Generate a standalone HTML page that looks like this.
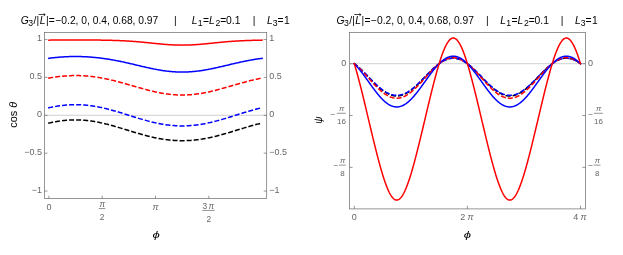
<!DOCTYPE html><html><head><meta charset="utf-8"><title>plot</title><style>html,body{margin:0;padding:0;background:#fff}body{width:623px;height:255px;position:relative;overflow:hidden}</style></head><body><svg width="623" height="255" viewBox="0 0 623 255" style="position:absolute;left:0;top:0">
<rect width="623" height="255" fill="#fff"/>
<g font-family="Liberation Sans, Arial, sans-serif">
<line x1="44.50" y1="115.30" x2="266.70" y2="115.30" stroke="#c4c4c4" stroke-width="0.8"/>
<g fill="none" stroke-width="1.5" stroke-linecap="square" stroke-linejoin="round">
<path d="M48.90 123.07 L49.79 122.87 L50.68 122.68 L51.56 122.49 L52.45 122.31 L53.34 122.14 L54.23 121.97 L55.12 121.80 L56.01 121.65 L56.89 121.50 L57.78 121.35 L58.67 121.22 L59.56 121.08 L60.45 120.96 L61.34 120.84 L62.23 120.73 L63.11 120.62 L64.00 120.53 L64.89 120.44 L65.78 120.35 L66.67 120.28 L67.56 120.21 L68.44 120.14 L69.33 120.09 L70.22 120.04 L71.11 120.00 L72.00 119.97 L72.89 119.94 L73.77 119.92 L74.66 119.91 L75.55 119.91 L76.44 119.91 L77.33 119.92 L78.22 119.94 L79.10 119.97 L79.99 120.00 L80.88 120.04 L81.77 120.09 L82.66 120.14 L83.55 120.21 L84.43 120.28 L85.32 120.35 L86.21 120.44 L87.10 120.53 L87.99 120.62 L88.88 120.73 L89.76 120.84 L90.65 120.96 L91.54 121.08 L92.43 121.22 L93.32 121.35 L94.21 121.50 L95.09 121.65 L95.98 121.80 L96.87 121.97 L97.76 122.14 L98.65 122.31 L99.53 122.49 L100.42 122.68 L101.31 122.87 L102.20 123.07 L103.09 123.27 L103.98 123.47 L104.87 123.69 L105.75 123.90 L106.64 124.12 L107.53 124.35 L108.42 124.58 L109.31 124.81 L110.20 125.05 L111.08 125.29 L111.97 125.54 L112.86 125.78 L113.75 126.04 L114.64 126.29 L115.53 126.55 L116.41 126.81 L117.30 127.07 L118.19 127.33 L119.08 127.60 L119.97 127.87 L120.86 128.14 L121.74 128.41 L122.63 128.68 L123.52 128.95 L124.41 129.23 L125.30 129.50 L126.19 129.78 L127.07 130.05 L127.96 130.33 L128.85 130.60 L129.74 130.88 L130.63 131.15 L131.52 131.42 L132.40 131.69 L133.29 131.96 L134.18 132.23 L135.07 132.50 L135.96 132.77 L136.84 133.03 L137.73 133.29 L138.62 133.55 L139.51 133.81 L140.40 134.07 L141.29 134.32 L142.18 134.57 L143.06 134.81 L143.95 135.05 L144.84 135.29 L145.73 135.53 L146.62 135.76 L147.50 135.99 L148.39 136.21 L149.28 136.43 L150.17 136.64 L151.06 136.85 L151.95 137.06 L152.84 137.26 L153.72 137.46 L154.61 137.65 L155.50 137.83 L156.39 138.01 L157.28 138.19 L158.17 138.36 L159.05 138.53 L159.94 138.68 L160.83 138.84 L161.72 138.99 L162.61 139.13 L163.50 139.27 L164.38 139.40 L165.27 139.52 L166.16 139.64 L167.05 139.75 L167.94 139.86 L168.83 139.96 L169.71 140.05 L170.60 140.14 L171.49 140.22 L172.38 140.30 L173.27 140.37 L174.16 140.43 L175.04 140.48 L175.93 140.53 L176.82 140.58 L177.71 140.61 L178.60 140.64 L179.49 140.66 L180.37 140.68 L181.26 140.69 L182.15 140.69 L183.04 140.69 L183.93 140.68 L184.81 140.66 L185.70 140.64 L186.59 140.61 L187.48 140.58 L188.37 140.53 L189.26 140.48 L190.15 140.43 L191.03 140.37 L191.92 140.30 L192.81 140.22 L193.70 140.14 L194.59 140.05 L195.47 139.96 L196.36 139.86 L197.25 139.75 L198.14 139.64 L199.03 139.52 L199.92 139.40 L200.81 139.27 L201.69 139.13 L202.58 138.99 L203.47 138.84 L204.36 138.68 L205.25 138.53 L206.13 138.36 L207.02 138.19 L207.91 138.01 L208.80 137.83 L209.69 137.65 L210.58 137.46 L211.47 137.26 L212.35 137.06 L213.24 136.85 L214.13 136.64 L215.02 136.43 L215.91 136.21 L216.80 135.99 L217.68 135.76 L218.57 135.53 L219.46 135.29 L220.35 135.05 L221.24 134.81 L222.12 134.57 L223.01 134.32 L223.90 134.07 L224.79 133.81 L225.68 133.55 L226.57 133.29 L227.46 133.03 L228.34 132.77 L229.23 132.50 L230.12 132.23 L231.01 131.96 L231.90 131.69 L232.78 131.42 L233.67 131.15 L234.56 130.88 L235.45 130.60 L236.34 130.33 L237.23 130.05 L238.12 129.78 L239.00 129.50 L239.89 129.23 L240.78 128.95 L241.67 128.68 L242.56 128.41 L243.44 128.14 L244.33 127.87 L245.22 127.60 L246.11 127.33 L247.00 127.07 L247.89 126.81 L248.78 126.55 L249.66 126.29 L250.55 126.04 L251.44 125.78 L252.33 125.54 L253.22 125.29 L254.11 125.05 L254.99 124.81 L255.88 124.58 L256.77 124.35 L257.66 124.12 L258.55 123.90 L259.44 123.69 L260.32 123.47 L261.21 123.27 L262.10 123.07" stroke="#000" stroke-dasharray="3.53 3.53"/>
<path d="M48.90 107.76 L49.79 107.57 L50.68 107.38 L51.56 107.20 L52.45 107.02 L53.34 106.85 L54.23 106.69 L55.12 106.53 L56.01 106.38 L56.89 106.23 L57.78 106.09 L58.67 105.96 L59.56 105.83 L60.45 105.71 L61.34 105.59 L62.23 105.49 L63.11 105.38 L64.00 105.29 L64.89 105.20 L65.78 105.12 L66.67 105.05 L67.56 104.98 L68.44 104.92 L69.33 104.87 L70.22 104.82 L71.11 104.78 L72.00 104.75 L72.89 104.72 L73.77 104.71 L74.66 104.70 L75.55 104.69 L76.44 104.70 L77.33 104.71 L78.22 104.72 L79.10 104.75 L79.99 104.78 L80.88 104.82 L81.77 104.87 L82.66 104.92 L83.55 104.98 L84.43 105.05 L85.32 105.12 L86.21 105.20 L87.10 105.29 L87.99 105.38 L88.88 105.49 L89.76 105.59 L90.65 105.71 L91.54 105.83 L92.43 105.96 L93.32 106.09 L94.21 106.23 L95.09 106.38 L95.98 106.53 L96.87 106.69 L97.76 106.85 L98.65 107.02 L99.53 107.20 L100.42 107.38 L101.31 107.57 L102.20 107.76 L103.09 107.96 L103.98 108.16 L104.87 108.37 L105.75 108.58 L106.64 108.80 L107.53 109.02 L108.42 109.25 L109.31 109.48 L110.20 109.72 L111.08 109.96 L111.97 110.20 L112.86 110.45 L113.75 110.70 L114.64 110.95 L115.53 111.21 L116.41 111.47 L117.30 111.73 L118.19 111.99 L119.08 112.26 L119.97 112.53 L120.86 112.80 L121.74 113.07 L122.63 113.35 L123.52 113.62 L124.41 113.90 L125.30 114.18 L126.19 114.46 L127.07 114.74 L127.96 115.02 L128.85 115.30 L129.74 115.58 L130.63 115.86 L131.52 116.14 L132.40 116.42 L133.29 116.70 L134.18 116.98 L135.07 117.25 L135.96 117.53 L136.84 117.80 L137.73 118.07 L138.62 118.34 L139.51 118.61 L140.40 118.87 L141.29 119.13 L142.18 119.39 L143.06 119.65 L143.95 119.90 L144.84 120.15 L145.73 120.40 L146.62 120.64 L147.50 120.88 L148.39 121.12 L149.28 121.35 L150.17 121.58 L151.06 121.80 L151.95 122.02 L152.84 122.23 L153.72 122.44 L154.61 122.64 L155.50 122.84 L156.39 123.03 L157.28 123.22 L158.17 123.40 L159.05 123.58 L159.94 123.75 L160.83 123.91 L161.72 124.07 L162.61 124.22 L163.50 124.37 L164.38 124.51 L165.27 124.64 L166.16 124.77 L167.05 124.89 L167.94 125.01 L168.83 125.11 L169.71 125.22 L170.60 125.31 L171.49 125.40 L172.38 125.48 L173.27 125.55 L174.16 125.62 L175.04 125.68 L175.93 125.73 L176.82 125.78 L177.71 125.82 L178.60 125.85 L179.49 125.88 L180.37 125.89 L181.26 125.90 L182.15 125.91 L183.04 125.90 L183.93 125.89 L184.81 125.88 L185.70 125.85 L186.59 125.82 L187.48 125.78 L188.37 125.73 L189.26 125.68 L190.15 125.62 L191.03 125.55 L191.92 125.48 L192.81 125.40 L193.70 125.31 L194.59 125.22 L195.47 125.11 L196.36 125.01 L197.25 124.89 L198.14 124.77 L199.03 124.64 L199.92 124.51 L200.81 124.37 L201.69 124.22 L202.58 124.07 L203.47 123.91 L204.36 123.75 L205.25 123.58 L206.13 123.40 L207.02 123.22 L207.91 123.03 L208.80 122.84 L209.69 122.64 L210.58 122.44 L211.47 122.23 L212.35 122.02 L213.24 121.80 L214.13 121.58 L215.02 121.35 L215.91 121.12 L216.80 120.88 L217.68 120.64 L218.57 120.40 L219.46 120.15 L220.35 119.90 L221.24 119.65 L222.12 119.39 L223.01 119.13 L223.90 118.87 L224.79 118.61 L225.68 118.34 L226.57 118.07 L227.46 117.80 L228.34 117.53 L229.23 117.25 L230.12 116.98 L231.01 116.70 L231.90 116.42 L232.78 116.14 L233.67 115.86 L234.56 115.58 L235.45 115.30 L236.34 115.02 L237.23 114.74 L238.12 114.46 L239.00 114.18 L239.89 113.90 L240.78 113.62 L241.67 113.35 L242.56 113.07 L243.44 112.80 L244.33 112.53 L245.22 112.26 L246.11 111.99 L247.00 111.73 L247.89 111.47 L248.78 111.21 L249.66 110.95 L250.55 110.70 L251.44 110.45 L252.33 110.20 L253.22 109.96 L254.11 109.72 L254.99 109.48 L255.88 109.25 L256.77 109.02 L257.66 108.80 L258.55 108.58 L259.44 108.37 L260.32 108.16 L261.21 107.96 L262.10 107.76" stroke="#0000ff" stroke-dasharray="3.53 3.53"/>
<path d="M48.90 78.10 L49.79 77.94 L50.68 77.78 L51.56 77.63 L52.45 77.48 L53.34 77.34 L54.23 77.21 L55.12 77.08 L56.01 76.95 L56.89 76.83 L57.78 76.71 L58.67 76.61 L59.56 76.50 L60.45 76.40 L61.34 76.31 L62.23 76.22 L63.11 76.14 L64.00 76.06 L64.89 75.99 L65.78 75.92 L66.67 75.86 L67.56 75.81 L68.44 75.76 L69.33 75.72 L70.22 75.68 L71.11 75.65 L72.00 75.62 L72.89 75.60 L73.77 75.59 L74.66 75.58 L75.55 75.58 L76.44 75.58 L77.33 75.59 L78.22 75.60 L79.10 75.62 L79.99 75.65 L80.88 75.68 L81.77 75.72 L82.66 75.76 L83.55 75.81 L84.43 75.86 L85.32 75.92 L86.21 75.99 L87.10 76.06 L87.99 76.14 L88.88 76.22 L89.76 76.31 L90.65 76.40 L91.54 76.50 L92.43 76.61 L93.32 76.71 L94.21 76.83 L95.09 76.95 L95.98 77.08 L96.87 77.21 L97.76 77.34 L98.65 77.48 L99.53 77.63 L100.42 77.78 L101.31 77.94 L102.20 78.10 L103.09 78.27 L103.98 78.44 L104.87 78.61 L105.75 78.79 L106.64 78.98 L107.53 79.16 L108.42 79.36 L109.31 79.55 L110.20 79.76 L111.08 79.96 L111.97 80.17 L112.86 80.38 L113.75 80.60 L114.64 80.82 L115.53 81.04 L116.41 81.27 L117.30 81.50 L118.19 81.73 L119.08 81.97 L119.97 82.20 L120.86 82.45 L121.74 82.69 L122.63 82.93 L123.52 83.18 L124.41 83.43 L125.30 83.68 L126.19 83.93 L127.07 84.19 L127.96 84.44 L128.85 84.70 L129.74 84.96 L130.63 85.21 L131.52 85.47 L132.40 85.73 L133.29 85.99 L134.18 86.25 L135.07 86.50 L135.96 86.76 L136.84 87.02 L137.73 87.27 L138.62 87.53 L139.51 87.78 L140.40 88.03 L141.29 88.29 L142.18 88.53 L143.06 88.78 L143.95 89.02 L144.84 89.27 L145.73 89.50 L146.62 89.74 L147.50 89.97 L148.39 90.20 L149.28 90.43 L150.17 90.65 L151.06 90.87 L151.95 91.09 L152.84 91.30 L153.72 91.50 L154.61 91.71 L155.50 91.90 L156.39 92.10 L157.28 92.28 L158.17 92.47 L159.05 92.64 L159.94 92.81 L160.83 92.98 L161.72 93.14 L162.61 93.30 L163.50 93.44 L164.38 93.59 L165.27 93.72 L166.16 93.85 L167.05 93.98 L167.94 94.09 L168.83 94.20 L169.71 94.31 L170.60 94.40 L171.49 94.50 L172.38 94.58 L173.27 94.65 L174.16 94.72 L175.04 94.79 L175.93 94.84 L176.82 94.89 L177.71 94.93 L178.60 94.96 L179.49 94.99 L180.37 95.01 L181.26 95.02 L182.15 95.02 L183.04 95.02 L183.93 95.01 L184.81 94.99 L185.70 94.96 L186.59 94.93 L187.48 94.89 L188.37 94.84 L189.26 94.79 L190.15 94.72 L191.03 94.65 L191.92 94.58 L192.81 94.50 L193.70 94.40 L194.59 94.31 L195.47 94.20 L196.36 94.09 L197.25 93.98 L198.14 93.85 L199.03 93.72 L199.92 93.59 L200.81 93.44 L201.69 93.30 L202.58 93.14 L203.47 92.98 L204.36 92.81 L205.25 92.64 L206.13 92.47 L207.02 92.28 L207.91 92.10 L208.80 91.90 L209.69 91.71 L210.58 91.50 L211.47 91.30 L212.35 91.09 L213.24 90.87 L214.13 90.65 L215.02 90.43 L215.91 90.20 L216.80 89.97 L217.68 89.74 L218.57 89.50 L219.46 89.27 L220.35 89.02 L221.24 88.78 L222.12 88.53 L223.01 88.29 L223.90 88.03 L224.79 87.78 L225.68 87.53 L226.57 87.27 L227.46 87.02 L228.34 86.76 L229.23 86.50 L230.12 86.25 L231.01 85.99 L231.90 85.73 L232.78 85.47 L233.67 85.21 L234.56 84.96 L235.45 84.70 L236.34 84.44 L237.23 84.19 L238.12 83.93 L239.00 83.68 L239.89 83.43 L240.78 83.18 L241.67 82.93 L242.56 82.69 L243.44 82.45 L244.33 82.20 L245.22 81.97 L246.11 81.73 L247.00 81.50 L247.89 81.27 L248.78 81.04 L249.66 80.82 L250.55 80.60 L251.44 80.38 L252.33 80.17 L253.22 79.96 L254.11 79.76 L254.99 79.55 L255.88 79.36 L256.77 79.16 L257.66 78.98 L258.55 78.79 L259.44 78.61 L260.32 78.44 L261.21 78.27 L262.10 78.10" stroke="#ff0000" stroke-dasharray="3.53 3.53"/>
<path d="M48.90 58.29 L49.79 58.17 L50.68 58.06 L51.56 57.96 L52.45 57.85 L53.34 57.75 L54.23 57.65 L55.12 57.56 L56.01 57.47 L56.89 57.39 L57.78 57.31 L58.67 57.23 L59.56 57.16 L60.45 57.09 L61.34 57.03 L62.23 56.96 L63.11 56.91 L64.00 56.85 L64.89 56.80 L65.78 56.76 L66.67 56.72 L67.56 56.68 L68.44 56.65 L69.33 56.62 L70.22 56.59 L71.11 56.57 L72.00 56.55 L72.89 56.54 L73.77 56.53 L74.66 56.52 L75.55 56.52 L76.44 56.52 L77.33 56.53 L78.22 56.54 L79.10 56.55 L79.99 56.57 L80.88 56.59 L81.77 56.62 L82.66 56.65 L83.55 56.68 L84.43 56.72 L85.32 56.76 L86.21 56.80 L87.10 56.85 L87.99 56.91 L88.88 56.96 L89.76 57.03 L90.65 57.09 L91.54 57.16 L92.43 57.23 L93.32 57.31 L94.21 57.39 L95.09 57.47 L95.98 57.56 L96.87 57.65 L97.76 57.75 L98.65 57.85 L99.53 57.96 L100.42 58.06 L101.31 58.17 L102.20 58.29 L103.09 58.41 L103.98 58.53 L104.87 58.66 L105.75 58.79 L106.64 58.92 L107.53 59.06 L108.42 59.20 L109.31 59.34 L110.20 59.49 L111.08 59.64 L111.97 59.80 L112.86 59.96 L113.75 60.12 L114.64 60.28 L115.53 60.45 L116.41 60.62 L117.30 60.79 L118.19 60.97 L119.08 61.15 L119.97 61.33 L120.86 61.52 L121.74 61.70 L122.63 61.89 L123.52 62.08 L124.41 62.28 L125.30 62.47 L126.19 62.67 L127.07 62.87 L127.96 63.07 L128.85 63.28 L129.74 63.48 L130.63 63.69 L131.52 63.89 L132.40 64.10 L133.29 64.31 L134.18 64.52 L135.07 64.73 L135.96 64.94 L136.84 65.15 L137.73 65.36 L138.62 65.57 L139.51 65.78 L140.40 65.99 L141.29 66.20 L142.18 66.41 L143.06 66.62 L143.95 66.82 L144.84 67.03 L145.73 67.23 L146.62 67.43 L147.50 67.63 L148.39 67.82 L149.28 68.02 L150.17 68.21 L151.06 68.40 L151.95 68.58 L152.84 68.77 L153.72 68.95 L154.61 69.12 L155.50 69.30 L156.39 69.46 L157.28 69.63 L158.17 69.79 L159.05 69.95 L159.94 70.10 L160.83 70.24 L161.72 70.39 L162.61 70.52 L163.50 70.66 L164.38 70.78 L165.27 70.91 L166.16 71.02 L167.05 71.13 L167.94 71.24 L168.83 71.34 L169.71 71.43 L170.60 71.52 L171.49 71.60 L172.38 71.67 L173.27 71.74 L174.16 71.81 L175.04 71.86 L175.93 71.91 L176.82 71.95 L177.71 71.99 L178.60 72.02 L179.49 72.04 L180.37 72.06 L181.26 72.07 L182.15 72.07 L183.04 72.07 L183.93 72.06 L184.81 72.04 L185.70 72.02 L186.59 71.99 L187.48 71.95 L188.37 71.91 L189.26 71.86 L190.15 71.81 L191.03 71.74 L191.92 71.67 L192.81 71.60 L193.70 71.52 L194.59 71.43 L195.47 71.34 L196.36 71.24 L197.25 71.13 L198.14 71.02 L199.03 70.91 L199.92 70.78 L200.81 70.66 L201.69 70.52 L202.58 70.39 L203.47 70.24 L204.36 70.10 L205.25 69.95 L206.13 69.79 L207.02 69.63 L207.91 69.46 L208.80 69.30 L209.69 69.12 L210.58 68.95 L211.47 68.77 L212.35 68.58 L213.24 68.40 L214.13 68.21 L215.02 68.02 L215.91 67.82 L216.80 67.63 L217.68 67.43 L218.57 67.23 L219.46 67.03 L220.35 66.82 L221.24 66.62 L222.12 66.41 L223.01 66.20 L223.90 65.99 L224.79 65.78 L225.68 65.57 L226.57 65.36 L227.46 65.15 L228.34 64.94 L229.23 64.73 L230.12 64.52 L231.01 64.31 L231.90 64.10 L232.78 63.89 L233.67 63.69 L234.56 63.48 L235.45 63.28 L236.34 63.07 L237.23 62.87 L238.12 62.67 L239.00 62.47 L239.89 62.28 L240.78 62.08 L241.67 61.89 L242.56 61.70 L243.44 61.52 L244.33 61.33 L245.22 61.15 L246.11 60.97 L247.00 60.79 L247.89 60.62 L248.78 60.45 L249.66 60.28 L250.55 60.12 L251.44 59.96 L252.33 59.80 L253.22 59.64 L254.11 59.49 L254.99 59.34 L255.88 59.20 L256.77 59.06 L257.66 58.92 L258.55 58.79 L259.44 58.66 L260.32 58.53 L261.21 58.41 L262.10 58.29" stroke="#0000ff"/>
<path d="M48.90 40.14 L49.79 40.13 L50.68 40.12 L51.56 40.11 L52.45 40.09 L53.34 40.08 L54.23 40.07 L55.12 40.06 L56.01 40.06 L56.89 40.05 L57.78 40.04 L58.67 40.03 L59.56 40.02 L60.45 40.02 L61.34 40.01 L62.23 40.01 L63.11 40.00 L64.00 40.00 L64.89 39.99 L65.78 39.99 L66.67 39.98 L67.56 39.98 L68.44 39.98 L69.33 39.98 L70.22 39.97 L71.11 39.97 L72.00 39.97 L72.89 39.97 L73.77 39.97 L74.66 39.97 L75.55 39.97 L76.44 39.97 L77.33 39.97 L78.22 39.97 L79.10 39.97 L79.99 39.97 L80.88 39.97 L81.77 39.98 L82.66 39.98 L83.55 39.98 L84.43 39.98 L85.32 39.99 L86.21 39.99 L87.10 40.00 L87.99 40.00 L88.88 40.01 L89.76 40.01 L90.65 40.02 L91.54 40.02 L92.43 40.03 L93.32 40.04 L94.21 40.05 L95.09 40.06 L95.98 40.06 L96.87 40.07 L97.76 40.08 L98.65 40.09 L99.53 40.11 L100.42 40.12 L101.31 40.13 L102.20 40.14 L103.09 40.16 L103.98 40.17 L104.87 40.19 L105.75 40.21 L106.64 40.22 L107.53 40.24 L108.42 40.26 L109.31 40.28 L110.20 40.30 L111.08 40.33 L111.97 40.35 L112.86 40.38 L113.75 40.40 L114.64 40.43 L115.53 40.46 L116.41 40.49 L117.30 40.52 L118.19 40.55 L119.08 40.59 L119.97 40.63 L120.86 40.66 L121.74 40.70 L122.63 40.75 L123.52 40.79 L124.41 40.83 L125.30 40.88 L126.19 40.93 L127.07 40.98 L127.96 41.04 L128.85 41.09 L129.74 41.15 L130.63 41.21 L131.52 41.27 L132.40 41.33 L133.29 41.40 L134.18 41.47 L135.07 41.54 L135.96 41.61 L136.84 41.68 L137.73 41.76 L138.62 41.83 L139.51 41.91 L140.40 41.99 L141.29 42.07 L142.18 42.16 L143.06 42.24 L143.95 42.33 L144.84 42.42 L145.73 42.51 L146.62 42.59 L147.50 42.68 L148.39 42.78 L149.28 42.87 L150.17 42.96 L151.06 43.05 L151.95 43.14 L152.84 43.23 L153.72 43.33 L154.61 43.42 L155.50 43.51 L156.39 43.60 L157.28 43.69 L158.17 43.77 L159.05 43.86 L159.94 43.94 L160.83 44.03 L161.72 44.11 L162.61 44.19 L163.50 44.26 L164.38 44.34 L165.27 44.41 L166.16 44.48 L167.05 44.54 L167.94 44.61 L168.83 44.67 L169.71 44.72 L170.60 44.78 L171.49 44.83 L172.38 44.87 L173.27 44.92 L174.16 44.96 L175.04 44.99 L175.93 45.02 L176.82 45.05 L177.71 45.07 L178.60 45.09 L179.49 45.11 L180.37 45.12 L181.26 45.12 L182.15 45.13 L183.04 45.12 L183.93 45.12 L184.81 45.11 L185.70 45.09 L186.59 45.07 L187.48 45.05 L188.37 45.02 L189.26 44.99 L190.15 44.96 L191.03 44.92 L191.92 44.87 L192.81 44.83 L193.70 44.78 L194.59 44.72 L195.47 44.67 L196.36 44.61 L197.25 44.54 L198.14 44.48 L199.03 44.41 L199.92 44.34 L200.81 44.26 L201.69 44.19 L202.58 44.11 L203.47 44.03 L204.36 43.94 L205.25 43.86 L206.13 43.77 L207.02 43.69 L207.91 43.60 L208.80 43.51 L209.69 43.42 L210.58 43.33 L211.47 43.23 L212.35 43.14 L213.24 43.05 L214.13 42.96 L215.02 42.87 L215.91 42.78 L216.80 42.68 L217.68 42.59 L218.57 42.51 L219.46 42.42 L220.35 42.33 L221.24 42.24 L222.12 42.16 L223.01 42.07 L223.90 41.99 L224.79 41.91 L225.68 41.83 L226.57 41.76 L227.46 41.68 L228.34 41.61 L229.23 41.54 L230.12 41.47 L231.01 41.40 L231.90 41.33 L232.78 41.27 L233.67 41.21 L234.56 41.15 L235.45 41.09 L236.34 41.04 L237.23 40.98 L238.12 40.93 L239.00 40.88 L239.89 40.83 L240.78 40.79 L241.67 40.75 L242.56 40.70 L243.44 40.66 L244.33 40.63 L245.22 40.59 L246.11 40.55 L247.00 40.52 L247.89 40.49 L248.78 40.46 L249.66 40.43 L250.55 40.40 L251.44 40.38 L252.33 40.35 L253.22 40.33 L254.11 40.30 L254.99 40.28 L255.88 40.26 L256.77 40.24 L257.66 40.22 L258.55 40.21 L259.44 40.19 L260.32 40.17 L261.21 40.16 L262.10 40.14" stroke="#ff0000"/>
</g>
<rect x="44.50" y="32.50" width="222.20" height="165.90" fill="none" stroke="#6a6a6a" stroke-width="0.7"/>
<line x1="44.50" y1="39.55" x2="47.50" y2="39.55" stroke="#6a6a6a" stroke-width="0.7"/>
<line x1="263.70" y1="39.55" x2="266.70" y2="39.55" stroke="#6a6a6a" stroke-width="0.7"/>
<text x="42.00" y="41.45" font-size="9.0" fill="#666666" text-anchor="end" >1</text>
<text x="269.20" y="41.45" font-size="9.0" fill="#666666" text-anchor="start" >1</text>
<line x1="44.50" y1="77.42" x2="47.50" y2="77.42" stroke="#6a6a6a" stroke-width="0.7"/>
<line x1="263.70" y1="77.42" x2="266.70" y2="77.42" stroke="#6a6a6a" stroke-width="0.7"/>
<text x="42.00" y="79.33" font-size="9.0" fill="#666666" text-anchor="end" >0.5</text>
<text x="269.20" y="79.33" font-size="9.0" fill="#666666" text-anchor="start" >0.5</text>
<line x1="44.50" y1="115.30" x2="47.50" y2="115.30" stroke="#6a6a6a" stroke-width="0.7"/>
<line x1="263.70" y1="115.30" x2="266.70" y2="115.30" stroke="#6a6a6a" stroke-width="0.7"/>
<text x="42.00" y="117.20" font-size="9.0" fill="#666666" text-anchor="end" >0</text>
<text x="269.20" y="117.20" font-size="9.0" fill="#666666" text-anchor="start" >0</text>
<line x1="44.50" y1="153.18" x2="47.50" y2="153.18" stroke="#6a6a6a" stroke-width="0.7"/>
<line x1="263.70" y1="153.18" x2="266.70" y2="153.18" stroke="#6a6a6a" stroke-width="0.7"/>
<text x="42.00" y="155.08" font-size="9.0" fill="#666666" text-anchor="end" >−0.5</text>
<text x="269.20" y="155.08" font-size="9.0" fill="#666666" text-anchor="start" >−0.5</text>
<line x1="44.50" y1="191.05" x2="47.50" y2="191.05" stroke="#6a6a6a" stroke-width="0.7"/>
<line x1="263.70" y1="191.05" x2="266.70" y2="191.05" stroke="#6a6a6a" stroke-width="0.7"/>
<text x="42.00" y="192.95" font-size="9.0" fill="#666666" text-anchor="end" >−1</text>
<text x="269.20" y="192.95" font-size="9.0" fill="#666666" text-anchor="start" >−1</text>
<line x1="48.90" y1="195.70" x2="48.90" y2="198.40" stroke="#6a6a6a" stroke-width="0.7"/>
<line x1="102.20" y1="195.70" x2="102.20" y2="198.40" stroke="#6a6a6a" stroke-width="0.7"/>
<line x1="155.50" y1="195.70" x2="155.50" y2="198.40" stroke="#6a6a6a" stroke-width="0.7"/>
<line x1="208.80" y1="195.70" x2="208.80" y2="198.40" stroke="#6a6a6a" stroke-width="0.7"/>
<text x="48.90" y="209.60" font-size="9.0" fill="#666666" text-anchor="middle" >0</text>
<text x="155.60" y="209.60" font-size="9.0" fill="#666666" text-anchor="middle" font-style="italic">π</text>
<text x="102.20" y="206.90" font-size="8.4" fill="#666666" text-anchor="middle" font-style="italic">π</text>
<line x1="98.80" y1="208.55" x2="105.30" y2="208.55" stroke="#666666" stroke-width="0.7"/>
<text x="102.10" y="219.70" font-size="8.4" fill="#666666" text-anchor="middle" >2</text>
<text x="204.90" y="208.90" font-size="8.4" fill="#666666" text-anchor="middle" >3</text>
<text x="211.35" y="208.90" font-size="8.4" fill="#666666" text-anchor="middle" font-style="italic">π</text>
<line x1="202.20" y1="210.40" x2="214.70" y2="210.40" stroke="#666666" stroke-width="0.7"/>
<text x="208.80" y="221.70" font-size="8.4" fill="#666666" text-anchor="middle" >2</text>
<text transform="translate(156.2,238.2) scale(1.35,1)" font-size="9.7" fill="#000" text-anchor="middle" font-style="italic">ϕ</text>
<text transform="translate(17.4,114.8) rotate(-90)" font-size="10.9" fill="#000" text-anchor="middle">cos <tspan font-style="italic">θ</tspan></text>
<line x1="349.60" y1="63.70" x2="585.35" y2="63.70" stroke="#c4c4c4" stroke-width="0.8"/>
<g fill="none" stroke-width="1.5" stroke-linecap="square" stroke-linejoin="round">
<path d="M354.30 63.70 L354.77 64.06 L355.24 64.42 L355.71 64.79 L356.19 65.17 L356.66 65.56 L357.13 65.96 L357.60 66.37 L358.07 66.78 L358.54 67.20 L359.01 67.62 L359.48 68.05 L359.95 68.49 L360.43 68.94 L360.90 69.38 L361.37 69.84 L361.84 70.30 L362.31 70.76 L362.78 71.23 L363.25 71.70 L363.73 72.18 L364.20 72.66 L364.67 73.14 L365.14 73.62 L365.61 74.11 L366.08 74.60 L366.55 75.09 L367.02 75.58 L367.50 76.07 L367.97 76.57 L368.44 77.06 L368.91 77.56 L369.38 78.05 L369.85 78.54 L370.32 79.03 L370.79 79.52 L371.26 80.01 L371.74 80.50 L372.21 80.99 L372.68 81.47 L373.15 81.95 L373.62 82.42 L374.09 82.89 L374.56 83.36 L375.04 83.83 L375.51 84.29 L375.98 84.74 L376.45 85.19 L376.92 85.63 L377.39 86.07 L377.86 86.50 L378.33 86.93 L378.81 87.35 L379.28 87.76 L379.75 88.16 L380.22 88.56 L380.69 88.95 L381.16 89.33 L381.63 89.70 L382.10 90.07 L382.57 90.42 L383.05 90.77 L383.52 91.11 L383.99 91.44 L384.46 91.75 L384.93 92.06 L385.40 92.36 L385.87 92.65 L386.35 92.92 L386.82 93.19 L387.29 93.44 L387.76 93.68 L388.23 93.92 L388.70 94.14 L389.17 94.35 L389.64 94.54 L390.12 94.73 L390.59 94.90 L391.06 95.06 L391.53 95.21 L392.00 95.34 L392.47 95.47 L392.94 95.58 L393.41 95.67 L393.88 95.76 L394.36 95.83 L394.83 95.89 L395.30 95.93 L395.77 95.97 L396.24 95.99 L396.71 95.99 L397.18 95.99 L397.66 95.97 L398.13 95.93 L398.60 95.89 L399.07 95.83 L399.54 95.76 L400.01 95.67 L400.48 95.58 L400.95 95.47 L401.43 95.34 L401.90 95.21 L402.37 95.06 L402.84 94.90 L403.31 94.73 L403.78 94.54 L404.25 94.35 L404.72 94.14 L405.19 93.92 L405.67 93.68 L406.14 93.44 L406.61 93.19 L407.08 92.92 L407.55 92.65 L408.02 92.36 L408.49 92.06 L408.97 91.75 L409.44 91.44 L409.91 91.11 L410.38 90.77 L410.85 90.42 L411.32 90.07 L411.79 89.70 L412.26 89.33 L412.74 88.95 L413.21 88.56 L413.68 88.16 L414.15 87.76 L414.62 87.35 L415.09 86.93 L415.56 86.50 L416.03 86.07 L416.50 85.63 L416.98 85.19 L417.45 84.74 L417.92 84.29 L418.39 83.83 L418.86 83.36 L419.33 82.89 L419.80 82.42 L420.27 81.95 L420.75 81.47 L421.22 80.99 L421.69 80.50 L422.16 80.01 L422.63 79.52 L423.10 79.03 L423.57 78.54 L424.05 78.05 L424.52 77.56 L424.99 77.06 L425.46 76.57 L425.93 76.07 L426.40 75.58 L426.87 75.09 L427.34 74.60 L427.81 74.11 L428.29 73.62 L428.76 73.14 L429.23 72.66 L429.70 72.18 L430.17 71.70 L430.64 71.23 L431.11 70.76 L431.58 70.30 L432.06 69.84 L432.53 69.38 L433.00 68.94 L433.47 68.49 L433.94 68.05 L434.41 67.62 L434.88 67.20 L435.36 66.78 L435.83 66.37 L436.30 65.96 L436.77 65.56 L437.24 65.17 L437.71 64.79 L438.18 64.42 L438.65 64.06 L439.12 63.70 L439.60 63.35 L440.07 63.02 L440.54 62.69 L441.01 62.37 L441.48 62.06 L441.95 61.77 L442.42 61.48 L442.89 61.20 L443.37 60.94 L443.84 60.68 L444.31 60.44 L444.78 60.21 L445.25 59.99 L445.72 59.78 L446.19 59.58 L446.67 59.40 L447.14 59.23 L447.61 59.07 L448.08 58.92 L448.55 58.78 L449.02 58.66 L449.49 58.55 L449.96 58.45 L450.44 58.37 L450.91 58.30 L451.38 58.24 L451.85 58.19 L452.32 58.16 L452.79 58.14 L453.26 58.13 L453.73 58.14 L454.20 58.16 L454.68 58.19 L455.15 58.24 L455.62 58.30 L456.09 58.37 L456.56 58.45 L457.03 58.55 L457.50 58.66 L457.98 58.78 L458.45 58.92 L458.92 59.07 L459.39 59.23 L459.86 59.40 L460.33 59.58 L460.80 59.78 L461.27 59.99 L461.75 60.21 L462.22 60.44 L462.69 60.68 L463.16 60.94 L463.63 61.20 L464.10 61.48 L464.57 61.77 L465.04 62.06 L465.51 62.37 L465.99 62.69 L466.46 63.02 L466.93 63.35 L467.40 63.70 L467.87 64.06 L468.34 64.42 L468.81 64.79 L469.28 65.17 L469.76 65.56 L470.23 65.96 L470.70 66.37 L471.17 66.78 L471.64 67.20 L472.11 67.62 L472.58 68.05 L473.06 68.49 L473.53 68.94 L474.00 69.38 L474.47 69.84 L474.94 70.30 L475.41 70.76 L475.88 71.23 L476.35 71.70 L476.82 72.18 L477.30 72.66 L477.77 73.14 L478.24 73.62 L478.71 74.11 L479.18 74.60 L479.65 75.09 L480.12 75.58 L480.60 76.07 L481.07 76.57 L481.54 77.06 L482.01 77.56 L482.48 78.05 L482.95 78.54 L483.42 79.03 L483.89 79.52 L484.37 80.01 L484.84 80.50 L485.31 80.99 L485.78 81.47 L486.25 81.95 L486.72 82.42 L487.19 82.89 L487.66 83.36 L488.13 83.83 L488.61 84.29 L489.08 84.74 L489.55 85.19 L490.02 85.63 L490.49 86.07 L490.96 86.50 L491.43 86.93 L491.90 87.35 L492.38 87.76 L492.85 88.16 L493.32 88.56 L493.79 88.95 L494.26 89.33 L494.73 89.70 L495.20 90.07 L495.68 90.42 L496.15 90.77 L496.62 91.11 L497.09 91.44 L497.56 91.75 L498.03 92.06 L498.50 92.36 L498.97 92.65 L499.44 92.92 L499.92 93.19 L500.39 93.44 L500.86 93.68 L501.33 93.92 L501.80 94.14 L502.27 94.35 L502.74 94.54 L503.21 94.73 L503.69 94.90 L504.16 95.06 L504.63 95.21 L505.10 95.34 L505.57 95.47 L506.04 95.58 L506.51 95.67 L506.99 95.76 L507.46 95.83 L507.93 95.89 L508.40 95.93 L508.87 95.97 L509.34 95.99 L509.81 95.99 L510.28 95.99 L510.75 95.97 L511.23 95.93 L511.70 95.89 L512.17 95.83 L512.64 95.76 L513.11 95.67 L513.58 95.58 L514.05 95.47 L514.52 95.34 L515.00 95.21 L515.47 95.06 L515.94 94.90 L516.41 94.73 L516.88 94.54 L517.35 94.35 L517.82 94.14 L518.30 93.92 L518.77 93.68 L519.24 93.44 L519.71 93.19 L520.18 92.92 L520.65 92.65 L521.12 92.36 L521.59 92.06 L522.07 91.75 L522.54 91.44 L523.01 91.11 L523.48 90.77 L523.95 90.42 L524.42 90.07 L524.89 89.70 L525.36 89.33 L525.84 88.95 L526.31 88.56 L526.78 88.16 L527.25 87.76 L527.72 87.35 L528.19 86.93 L528.66 86.50 L529.13 86.07 L529.61 85.63 L530.08 85.19 L530.55 84.74 L531.02 84.29 L531.49 83.83 L531.96 83.36 L532.43 82.89 L532.90 82.42 L533.38 81.95 L533.85 81.47 L534.32 80.99 L534.79 80.50 L535.26 80.01 L535.73 79.52 L536.20 79.03 L536.67 78.54 L537.14 78.05 L537.62 77.56 L538.09 77.06 L538.56 76.57 L539.03 76.07 L539.50 75.58 L539.97 75.09 L540.44 74.60 L540.91 74.11 L541.39 73.62 L541.86 73.14 L542.33 72.66 L542.80 72.18 L543.27 71.70 L543.74 71.23 L544.21 70.76 L544.68 70.30 L545.16 69.84 L545.63 69.38 L546.10 68.94 L546.57 68.49 L547.04 68.05 L547.51 67.62 L547.98 67.20 L548.45 66.78 L548.93 66.37 L549.40 65.96 L549.87 65.56 L550.34 65.17 L550.81 64.79 L551.28 64.42 L551.75 64.06 L552.23 63.70 L552.70 63.35 L553.17 63.02 L553.64 62.69 L554.11 62.37 L554.58 62.06 L555.05 61.77 L555.52 61.48 L556.00 61.20 L556.47 60.94 L556.94 60.68 L557.41 60.44 L557.88 60.21 L558.35 59.99 L558.82 59.78 L559.29 59.58 L559.76 59.40 L560.24 59.23 L560.71 59.07 L561.18 58.92 L561.65 58.78 L562.12 58.66 L562.59 58.55 L563.06 58.45 L563.53 58.37 L564.01 58.30 L564.48 58.24 L564.95 58.19 L565.42 58.16 L565.89 58.14 L566.36 58.13 L566.83 58.14 L567.30 58.16 L567.78 58.19 L568.25 58.24 L568.72 58.30 L569.19 58.37 L569.66 58.45 L570.13 58.55 L570.60 58.66 L571.08 58.78 L571.55 58.92 L572.02 59.07 L572.49 59.23 L572.96 59.40 L573.43 59.58 L573.90 59.78 L574.37 59.99 L574.85 60.21 L575.32 60.44 L575.79 60.68 L576.26 60.94 L576.73 61.20 L577.20 61.48 L577.67 61.77 L578.14 62.06 L578.62 62.37 L579.09 62.69 L579.56 63.02 L580.03 63.35 L580.50 63.70" stroke="#000" stroke-dasharray="3.53 3.53"/>
<path d="M354.30 63.70 L354.77 64.05 L355.24 64.41 L355.71 64.77 L356.19 65.14 L356.66 65.53 L357.13 65.91 L357.60 66.31 L358.07 66.71 L358.54 67.13 L359.01 67.54 L359.48 67.97 L359.95 68.39 L360.43 68.83 L360.90 69.27 L361.37 69.71 L361.84 70.16 L362.31 70.62 L362.78 71.08 L363.25 71.54 L363.73 72.01 L364.20 72.48 L364.67 72.95 L365.14 73.42 L365.61 73.90 L366.08 74.38 L366.55 74.86 L367.02 75.34 L367.50 75.82 L367.97 76.31 L368.44 76.79 L368.91 77.28 L369.38 77.76 L369.85 78.24 L370.32 78.72 L370.79 79.20 L371.26 79.68 L371.74 80.16 L372.21 80.63 L372.68 81.11 L373.15 81.58 L373.62 82.04 L374.09 82.50 L374.56 82.96 L375.04 83.42 L375.51 83.87 L375.98 84.31 L376.45 84.75 L376.92 85.19 L377.39 85.62 L377.86 86.04 L378.33 86.46 L378.81 86.87 L379.28 87.27 L379.75 87.67 L380.22 88.06 L380.69 88.44 L381.16 88.81 L381.63 89.18 L382.10 89.53 L382.57 89.88 L383.05 90.22 L383.52 90.55 L383.99 90.87 L384.46 91.18 L384.93 91.49 L385.40 91.78 L385.87 92.06 L386.35 92.33 L386.82 92.59 L387.29 92.84 L387.76 93.08 L388.23 93.30 L388.70 93.52 L389.17 93.72 L389.64 93.92 L390.12 94.10 L390.59 94.27 L391.06 94.42 L391.53 94.57 L392.00 94.70 L392.47 94.82 L392.94 94.93 L393.41 95.02 L393.88 95.11 L394.36 95.18 L394.83 95.23 L395.30 95.28 L395.77 95.31 L396.24 95.33 L396.71 95.34 L397.18 95.33 L397.66 95.31 L398.13 95.28 L398.60 95.23 L399.07 95.18 L399.54 95.11 L400.01 95.02 L400.48 94.93 L400.95 94.82 L401.43 94.70 L401.90 94.57 L402.37 94.42 L402.84 94.27 L403.31 94.10 L403.78 93.92 L404.25 93.72 L404.72 93.52 L405.19 93.30 L405.67 93.08 L406.14 92.84 L406.61 92.59 L407.08 92.33 L407.55 92.06 L408.02 91.78 L408.49 91.49 L408.97 91.18 L409.44 90.87 L409.91 90.55 L410.38 90.22 L410.85 89.88 L411.32 89.53 L411.79 89.18 L412.26 88.81 L412.74 88.44 L413.21 88.06 L413.68 87.67 L414.15 87.27 L414.62 86.87 L415.09 86.46 L415.56 86.04 L416.03 85.62 L416.50 85.19 L416.98 84.75 L417.45 84.31 L417.92 83.87 L418.39 83.42 L418.86 82.96 L419.33 82.50 L419.80 82.04 L420.27 81.58 L420.75 81.11 L421.22 80.63 L421.69 80.16 L422.16 79.68 L422.63 79.20 L423.10 78.72 L423.57 78.24 L424.05 77.76 L424.52 77.28 L424.99 76.79 L425.46 76.31 L425.93 75.82 L426.40 75.34 L426.87 74.86 L427.34 74.38 L427.81 73.90 L428.29 73.42 L428.76 72.95 L429.23 72.48 L429.70 72.01 L430.17 71.54 L430.64 71.08 L431.11 70.62 L431.58 70.16 L432.06 69.71 L432.53 69.27 L433.00 68.83 L433.47 68.39 L433.94 67.97 L434.41 67.54 L434.88 67.13 L435.36 66.71 L435.83 66.31 L436.30 65.91 L436.77 65.53 L437.24 65.14 L437.71 64.77 L438.18 64.41 L438.65 64.05 L439.12 63.70 L439.60 63.36 L440.07 63.03 L440.54 62.71 L441.01 62.40 L441.48 62.10 L441.95 61.81 L442.42 61.52 L442.89 61.25 L443.37 60.99 L443.84 60.74 L444.31 60.51 L444.78 60.28 L445.25 60.06 L445.72 59.86 L446.19 59.67 L446.67 59.49 L447.14 59.32 L447.61 59.16 L448.08 59.02 L448.55 58.88 L449.02 58.76 L449.49 58.65 L449.96 58.56 L450.44 58.48 L450.91 58.41 L451.38 58.35 L451.85 58.30 L452.32 58.27 L452.79 58.25 L453.26 58.25 L453.73 58.25 L454.20 58.27 L454.68 58.30 L455.15 58.35 L455.62 58.41 L456.09 58.48 L456.56 58.56 L457.03 58.65 L457.50 58.76 L457.98 58.88 L458.45 59.02 L458.92 59.16 L459.39 59.32 L459.86 59.49 L460.33 59.67 L460.80 59.86 L461.27 60.06 L461.75 60.28 L462.22 60.51 L462.69 60.74 L463.16 60.99 L463.63 61.25 L464.10 61.52 L464.57 61.81 L465.04 62.10 L465.51 62.40 L465.99 62.71 L466.46 63.03 L466.93 63.36 L467.40 63.70 L467.87 64.05 L468.34 64.41 L468.81 64.77 L469.28 65.14 L469.76 65.53 L470.23 65.91 L470.70 66.31 L471.17 66.71 L471.64 67.13 L472.11 67.54 L472.58 67.97 L473.06 68.39 L473.53 68.83 L474.00 69.27 L474.47 69.71 L474.94 70.16 L475.41 70.62 L475.88 71.08 L476.35 71.54 L476.82 72.01 L477.30 72.48 L477.77 72.95 L478.24 73.42 L478.71 73.90 L479.18 74.38 L479.65 74.86 L480.12 75.34 L480.60 75.82 L481.07 76.31 L481.54 76.79 L482.01 77.28 L482.48 77.76 L482.95 78.24 L483.42 78.72 L483.89 79.20 L484.37 79.68 L484.84 80.16 L485.31 80.63 L485.78 81.11 L486.25 81.58 L486.72 82.04 L487.19 82.50 L487.66 82.96 L488.13 83.42 L488.61 83.87 L489.08 84.31 L489.55 84.75 L490.02 85.19 L490.49 85.62 L490.96 86.04 L491.43 86.46 L491.90 86.87 L492.38 87.27 L492.85 87.67 L493.32 88.06 L493.79 88.44 L494.26 88.81 L494.73 89.18 L495.20 89.53 L495.68 89.88 L496.15 90.22 L496.62 90.55 L497.09 90.87 L497.56 91.18 L498.03 91.49 L498.50 91.78 L498.97 92.06 L499.44 92.33 L499.92 92.59 L500.39 92.84 L500.86 93.08 L501.33 93.30 L501.80 93.52 L502.27 93.72 L502.74 93.92 L503.21 94.10 L503.69 94.27 L504.16 94.42 L504.63 94.57 L505.10 94.70 L505.57 94.82 L506.04 94.93 L506.51 95.02 L506.99 95.11 L507.46 95.18 L507.93 95.23 L508.40 95.28 L508.87 95.31 L509.34 95.33 L509.81 95.34 L510.28 95.33 L510.75 95.31 L511.23 95.28 L511.70 95.23 L512.17 95.18 L512.64 95.11 L513.11 95.02 L513.58 94.93 L514.05 94.82 L514.52 94.70 L515.00 94.57 L515.47 94.42 L515.94 94.27 L516.41 94.10 L516.88 93.92 L517.35 93.72 L517.82 93.52 L518.30 93.30 L518.77 93.08 L519.24 92.84 L519.71 92.59 L520.18 92.33 L520.65 92.06 L521.12 91.78 L521.59 91.49 L522.07 91.18 L522.54 90.87 L523.01 90.55 L523.48 90.22 L523.95 89.88 L524.42 89.53 L524.89 89.18 L525.36 88.81 L525.84 88.44 L526.31 88.06 L526.78 87.67 L527.25 87.27 L527.72 86.87 L528.19 86.46 L528.66 86.04 L529.13 85.62 L529.61 85.19 L530.08 84.75 L530.55 84.31 L531.02 83.87 L531.49 83.42 L531.96 82.96 L532.43 82.50 L532.90 82.04 L533.38 81.58 L533.85 81.11 L534.32 80.63 L534.79 80.16 L535.26 79.68 L535.73 79.20 L536.20 78.72 L536.67 78.24 L537.14 77.76 L537.62 77.28 L538.09 76.79 L538.56 76.31 L539.03 75.82 L539.50 75.34 L539.97 74.86 L540.44 74.38 L540.91 73.90 L541.39 73.42 L541.86 72.95 L542.33 72.48 L542.80 72.01 L543.27 71.54 L543.74 71.08 L544.21 70.62 L544.68 70.16 L545.16 69.71 L545.63 69.27 L546.10 68.83 L546.57 68.39 L547.04 67.97 L547.51 67.54 L547.98 67.13 L548.45 66.71 L548.93 66.31 L549.40 65.91 L549.87 65.53 L550.34 65.14 L550.81 64.77 L551.28 64.41 L551.75 64.05 L552.23 63.70 L552.70 63.36 L553.17 63.03 L553.64 62.71 L554.11 62.40 L554.58 62.10 L555.05 61.81 L555.52 61.52 L556.00 61.25 L556.47 60.99 L556.94 60.74 L557.41 60.51 L557.88 60.28 L558.35 60.06 L558.82 59.86 L559.29 59.67 L559.76 59.49 L560.24 59.32 L560.71 59.16 L561.18 59.02 L561.65 58.88 L562.12 58.76 L562.59 58.65 L563.06 58.56 L563.53 58.48 L564.01 58.41 L564.48 58.35 L564.95 58.30 L565.42 58.27 L565.89 58.25 L566.36 58.25 L566.83 58.25 L567.30 58.27 L567.78 58.30 L568.25 58.35 L568.72 58.41 L569.19 58.48 L569.66 58.56 L570.13 58.65 L570.60 58.76 L571.08 58.88 L571.55 59.02 L572.02 59.16 L572.49 59.32 L572.96 59.49 L573.43 59.67 L573.90 59.86 L574.37 60.06 L574.85 60.28 L575.32 60.51 L575.79 60.74 L576.26 60.99 L576.73 61.25 L577.20 61.52 L577.67 61.81 L578.14 62.10 L578.62 62.40 L579.09 62.71 L579.56 63.03 L580.03 63.36 L580.50 63.70" stroke="#0000ff" stroke-dasharray="3.53 3.53"/>
<path d="M354.30 63.70 L354.77 64.08 L355.24 64.47 L355.71 64.87 L356.19 65.28 L356.66 65.69 L357.13 66.12 L357.60 66.55 L358.07 66.99 L358.54 67.44 L359.01 67.89 L359.48 68.36 L359.95 68.83 L360.43 69.30 L360.90 69.78 L361.37 70.27 L361.84 70.76 L362.31 71.25 L362.78 71.75 L363.25 72.26 L363.73 72.77 L364.20 73.28 L364.67 73.79 L365.14 74.31 L365.61 74.83 L366.08 75.36 L366.55 75.88 L367.02 76.41 L367.50 76.93 L367.97 77.46 L368.44 77.99 L368.91 78.52 L369.38 79.04 L369.85 79.57 L370.32 80.10 L370.79 80.62 L371.26 81.14 L371.74 81.66 L372.21 82.18 L372.68 82.70 L373.15 83.21 L373.62 83.72 L374.09 84.22 L374.56 84.72 L375.04 85.22 L375.51 85.71 L375.98 86.20 L376.45 86.68 L376.92 87.15 L377.39 87.62 L377.86 88.08 L378.33 88.54 L378.81 88.99 L379.28 89.43 L379.75 89.86 L380.22 90.28 L380.69 90.70 L381.16 91.11 L381.63 91.51 L382.10 91.90 L382.57 92.28 L383.05 92.65 L383.52 93.01 L383.99 93.36 L384.46 93.70 L384.93 94.03 L385.40 94.35 L385.87 94.65 L386.35 94.95 L386.82 95.23 L387.29 95.51 L387.76 95.77 L388.23 96.01 L388.70 96.25 L389.17 96.47 L389.64 96.68 L390.12 96.88 L390.59 97.07 L391.06 97.24 L391.53 97.40 L392.00 97.54 L392.47 97.67 L392.94 97.79 L393.41 97.89 L393.88 97.98 L394.36 98.06 L394.83 98.12 L395.30 98.17 L395.77 98.21 L396.24 98.23 L396.71 98.24 L397.18 98.23 L397.66 98.21 L398.13 98.17 L398.60 98.12 L399.07 98.06 L399.54 97.98 L400.01 97.89 L400.48 97.79 L400.95 97.67 L401.43 97.54 L401.90 97.40 L402.37 97.24 L402.84 97.07 L403.31 96.88 L403.78 96.68 L404.25 96.47 L404.72 96.25 L405.19 96.01 L405.67 95.77 L406.14 95.51 L406.61 95.23 L407.08 94.95 L407.55 94.65 L408.02 94.35 L408.49 94.03 L408.97 93.70 L409.44 93.36 L409.91 93.01 L410.38 92.65 L410.85 92.28 L411.32 91.90 L411.79 91.51 L412.26 91.11 L412.74 90.70 L413.21 90.28 L413.68 89.86 L414.15 89.43 L414.62 88.99 L415.09 88.54 L415.56 88.08 L416.03 87.62 L416.50 87.15 L416.98 86.68 L417.45 86.20 L417.92 85.71 L418.39 85.22 L418.86 84.72 L419.33 84.22 L419.80 83.72 L420.27 83.21 L420.75 82.70 L421.22 82.18 L421.69 81.66 L422.16 81.14 L422.63 80.62 L423.10 80.10 L423.57 79.57 L424.05 79.04 L424.52 78.52 L424.99 77.99 L425.46 77.46 L425.93 76.93 L426.40 76.41 L426.87 75.88 L427.34 75.36 L427.81 74.83 L428.29 74.31 L428.76 73.79 L429.23 73.28 L429.70 72.77 L430.17 72.26 L430.64 71.75 L431.11 71.25 L431.58 70.76 L432.06 70.27 L432.53 69.78 L433.00 69.30 L433.47 68.83 L433.94 68.36 L434.41 67.89 L434.88 67.44 L435.36 66.99 L435.83 66.55 L436.30 66.12 L436.77 65.69 L437.24 65.28 L437.71 64.87 L438.18 64.47 L438.65 64.08 L439.12 63.70 L439.60 63.33 L440.07 62.97 L440.54 62.62 L441.01 62.28 L441.48 61.95 L441.95 61.63 L442.42 61.32 L442.89 61.03 L443.37 60.74 L443.84 60.47 L444.31 60.21 L444.78 59.96 L445.25 59.73 L445.72 59.50 L446.19 59.29 L446.67 59.10 L447.14 58.91 L447.61 58.74 L448.08 58.58 L448.55 58.44 L449.02 58.31 L449.49 58.19 L449.96 58.08 L450.44 57.99 L450.91 57.92 L451.38 57.85 L451.85 57.80 L452.32 57.77 L452.79 57.75 L453.26 57.74 L453.73 57.75 L454.20 57.77 L454.68 57.80 L455.15 57.85 L455.62 57.92 L456.09 57.99 L456.56 58.08 L457.03 58.19 L457.50 58.31 L457.98 58.44 L458.45 58.58 L458.92 58.74 L459.39 58.91 L459.86 59.10 L460.33 59.29 L460.80 59.50 L461.27 59.73 L461.75 59.96 L462.22 60.21 L462.69 60.47 L463.16 60.74 L463.63 61.03 L464.10 61.32 L464.57 61.63 L465.04 61.95 L465.51 62.28 L465.99 62.62 L466.46 62.97 L466.93 63.33 L467.40 63.70 L467.87 64.08 L468.34 64.47 L468.81 64.87 L469.28 65.28 L469.76 65.69 L470.23 66.12 L470.70 66.55 L471.17 66.99 L471.64 67.44 L472.11 67.89 L472.58 68.36 L473.06 68.83 L473.53 69.30 L474.00 69.78 L474.47 70.27 L474.94 70.76 L475.41 71.25 L475.88 71.75 L476.35 72.26 L476.82 72.77 L477.30 73.28 L477.77 73.79 L478.24 74.31 L478.71 74.83 L479.18 75.36 L479.65 75.88 L480.12 76.41 L480.60 76.93 L481.07 77.46 L481.54 77.99 L482.01 78.52 L482.48 79.04 L482.95 79.57 L483.42 80.10 L483.89 80.62 L484.37 81.14 L484.84 81.66 L485.31 82.18 L485.78 82.70 L486.25 83.21 L486.72 83.72 L487.19 84.22 L487.66 84.72 L488.13 85.22 L488.61 85.71 L489.08 86.20 L489.55 86.68 L490.02 87.15 L490.49 87.62 L490.96 88.08 L491.43 88.54 L491.90 88.99 L492.38 89.43 L492.85 89.86 L493.32 90.28 L493.79 90.70 L494.26 91.11 L494.73 91.51 L495.20 91.90 L495.68 92.28 L496.15 92.65 L496.62 93.01 L497.09 93.36 L497.56 93.70 L498.03 94.03 L498.50 94.35 L498.97 94.65 L499.44 94.95 L499.92 95.23 L500.39 95.51 L500.86 95.77 L501.33 96.01 L501.80 96.25 L502.27 96.47 L502.74 96.68 L503.21 96.88 L503.69 97.07 L504.16 97.24 L504.63 97.40 L505.10 97.54 L505.57 97.67 L506.04 97.79 L506.51 97.89 L506.99 97.98 L507.46 98.06 L507.93 98.12 L508.40 98.17 L508.87 98.21 L509.34 98.23 L509.81 98.24 L510.28 98.23 L510.75 98.21 L511.23 98.17 L511.70 98.12 L512.17 98.06 L512.64 97.98 L513.11 97.89 L513.58 97.79 L514.05 97.67 L514.52 97.54 L515.00 97.40 L515.47 97.24 L515.94 97.07 L516.41 96.88 L516.88 96.68 L517.35 96.47 L517.82 96.25 L518.30 96.01 L518.77 95.77 L519.24 95.51 L519.71 95.23 L520.18 94.95 L520.65 94.65 L521.12 94.35 L521.59 94.03 L522.07 93.70 L522.54 93.36 L523.01 93.01 L523.48 92.65 L523.95 92.28 L524.42 91.90 L524.89 91.51 L525.36 91.11 L525.84 90.70 L526.31 90.28 L526.78 89.86 L527.25 89.43 L527.72 88.99 L528.19 88.54 L528.66 88.08 L529.13 87.62 L529.61 87.15 L530.08 86.68 L530.55 86.20 L531.02 85.71 L531.49 85.22 L531.96 84.72 L532.43 84.22 L532.90 83.72 L533.38 83.21 L533.85 82.70 L534.32 82.18 L534.79 81.66 L535.26 81.14 L535.73 80.62 L536.20 80.10 L536.67 79.57 L537.14 79.04 L537.62 78.52 L538.09 77.99 L538.56 77.46 L539.03 76.93 L539.50 76.41 L539.97 75.88 L540.44 75.36 L540.91 74.83 L541.39 74.31 L541.86 73.79 L542.33 73.28 L542.80 72.77 L543.27 72.26 L543.74 71.75 L544.21 71.25 L544.68 70.76 L545.16 70.27 L545.63 69.78 L546.10 69.30 L546.57 68.83 L547.04 68.36 L547.51 67.89 L547.98 67.44 L548.45 66.99 L548.93 66.55 L549.40 66.12 L549.87 65.69 L550.34 65.28 L550.81 64.87 L551.28 64.47 L551.75 64.08 L552.23 63.70 L552.70 63.33 L553.17 62.97 L553.64 62.62 L554.11 62.28 L554.58 61.95 L555.05 61.63 L555.52 61.32 L556.00 61.03 L556.47 60.74 L556.94 60.47 L557.41 60.21 L557.88 59.96 L558.35 59.73 L558.82 59.50 L559.29 59.29 L559.76 59.10 L560.24 58.91 L560.71 58.74 L561.18 58.58 L561.65 58.44 L562.12 58.31 L562.59 58.19 L563.06 58.08 L563.53 57.99 L564.01 57.92 L564.48 57.85 L564.95 57.80 L565.42 57.77 L565.89 57.75 L566.36 57.74 L566.83 57.75 L567.30 57.77 L567.78 57.80 L568.25 57.85 L568.72 57.92 L569.19 57.99 L569.66 58.08 L570.13 58.19 L570.60 58.31 L571.08 58.44 L571.55 58.58 L572.02 58.74 L572.49 58.91 L572.96 59.10 L573.43 59.29 L573.90 59.50 L574.37 59.73 L574.85 59.96 L575.32 60.21 L575.79 60.47 L576.26 60.74 L576.73 61.03 L577.20 61.32 L577.67 61.63 L578.14 61.95 L578.62 62.28 L579.09 62.62 L579.56 62.97 L580.03 63.33 L580.50 63.70" stroke="#ff0000" stroke-dasharray="3.53 3.53"/>
<path d="M354.30 63.70 L354.77 64.18 L355.24 64.67 L355.71 65.17 L356.19 65.68 L356.66 66.20 L357.13 66.73 L357.60 67.27 L358.07 67.83 L358.54 68.39 L359.01 68.96 L359.48 69.53 L359.95 70.12 L360.43 70.72 L360.90 71.32 L361.37 71.92 L361.84 72.54 L362.31 73.16 L362.78 73.79 L363.25 74.42 L363.73 75.05 L364.20 75.69 L364.67 76.34 L365.14 76.99 L365.61 77.64 L366.08 78.29 L366.55 78.94 L367.02 79.60 L367.50 80.26 L367.97 80.92 L368.44 81.58 L368.91 82.24 L369.38 82.90 L369.85 83.56 L370.32 84.22 L370.79 84.87 L371.26 85.52 L371.74 86.18 L372.21 86.82 L372.68 87.47 L373.15 88.11 L373.62 88.74 L374.09 89.37 L374.56 90.00 L375.04 90.62 L375.51 91.24 L375.98 91.84 L376.45 92.45 L376.92 93.04 L377.39 93.63 L377.86 94.20 L378.33 94.77 L378.81 95.34 L379.28 95.89 L379.75 96.43 L380.22 96.96 L380.69 97.48 L381.16 97.99 L381.63 98.49 L382.10 98.98 L382.57 99.46 L383.05 99.93 L383.52 100.38 L383.99 100.82 L384.46 101.24 L384.93 101.66 L385.40 102.06 L385.87 102.44 L386.35 102.81 L386.82 103.17 L387.29 103.51 L387.76 103.84 L388.23 104.15 L388.70 104.45 L389.17 104.73 L389.64 104.99 L390.12 105.24 L390.59 105.47 L391.06 105.69 L391.53 105.89 L392.00 106.07 L392.47 106.24 L392.94 106.38 L393.41 106.52 L393.88 106.63 L394.36 106.73 L394.83 106.80 L395.30 106.87 L395.77 106.91 L396.24 106.94 L396.71 106.95 L397.18 106.94 L397.66 106.91 L398.13 106.87 L398.60 106.80 L399.07 106.73 L399.54 106.63 L400.01 106.52 L400.48 106.38 L400.95 106.24 L401.43 106.07 L401.90 105.89 L402.37 105.69 L402.84 105.47 L403.31 105.24 L403.78 104.99 L404.25 104.73 L404.72 104.45 L405.19 104.15 L405.67 103.84 L406.14 103.51 L406.61 103.17 L407.08 102.81 L407.55 102.44 L408.02 102.06 L408.49 101.66 L408.97 101.24 L409.44 100.82 L409.91 100.38 L410.38 99.93 L410.85 99.46 L411.32 98.98 L411.79 98.49 L412.26 97.99 L412.74 97.48 L413.21 96.96 L413.68 96.43 L414.15 95.89 L414.62 95.34 L415.09 94.77 L415.56 94.20 L416.03 93.63 L416.50 93.04 L416.98 92.45 L417.45 91.84 L417.92 91.24 L418.39 90.62 L418.86 90.00 L419.33 89.37 L419.80 88.74 L420.27 88.11 L420.75 87.47 L421.22 86.82 L421.69 86.18 L422.16 85.52 L422.63 84.87 L423.10 84.22 L423.57 83.56 L424.05 82.90 L424.52 82.24 L424.99 81.58 L425.46 80.92 L425.93 80.26 L426.40 79.60 L426.87 78.94 L427.34 78.29 L427.81 77.64 L428.29 76.99 L428.76 76.34 L429.23 75.69 L429.70 75.05 L430.17 74.42 L430.64 73.79 L431.11 73.16 L431.58 72.54 L432.06 71.92 L432.53 71.32 L433.00 70.72 L433.47 70.12 L433.94 69.53 L434.41 68.96 L434.88 68.39 L435.36 67.83 L435.83 67.27 L436.30 66.73 L436.77 66.20 L437.24 65.68 L437.71 65.17 L438.18 64.67 L438.65 64.18 L439.12 63.70 L439.60 63.24 L440.07 62.78 L440.54 62.34 L441.01 61.92 L441.48 61.50 L441.95 61.10 L442.42 60.72 L442.89 60.35 L443.37 59.99 L443.84 59.65 L444.31 59.32 L444.78 59.01 L445.25 58.71 L445.72 58.43 L446.19 58.17 L446.67 57.92 L447.14 57.69 L447.61 57.47 L448.08 57.27 L448.55 57.09 L449.02 56.92 L449.49 56.78 L449.96 56.65 L450.44 56.53 L450.91 56.43 L451.38 56.36 L451.85 56.29 L452.32 56.25 L452.79 56.22 L453.26 56.22 L453.73 56.22 L454.20 56.25 L454.68 56.29 L455.15 56.36 L455.62 56.43 L456.09 56.53 L456.56 56.65 L457.03 56.78 L457.50 56.92 L457.98 57.09 L458.45 57.27 L458.92 57.47 L459.39 57.69 L459.86 57.92 L460.33 58.17 L460.80 58.43 L461.27 58.71 L461.75 59.01 L462.22 59.32 L462.69 59.65 L463.16 59.99 L463.63 60.35 L464.10 60.72 L464.57 61.10 L465.04 61.50 L465.51 61.92 L465.99 62.34 L466.46 62.78 L466.93 63.24 L467.40 63.70 L467.87 64.18 L468.34 64.67 L468.81 65.17 L469.28 65.68 L469.76 66.20 L470.23 66.73 L470.70 67.27 L471.17 67.83 L471.64 68.39 L472.11 68.96 L472.58 69.53 L473.06 70.12 L473.53 70.72 L474.00 71.32 L474.47 71.92 L474.94 72.54 L475.41 73.16 L475.88 73.79 L476.35 74.42 L476.82 75.05 L477.30 75.69 L477.77 76.34 L478.24 76.99 L478.71 77.64 L479.18 78.29 L479.65 78.94 L480.12 79.60 L480.60 80.26 L481.07 80.92 L481.54 81.58 L482.01 82.24 L482.48 82.90 L482.95 83.56 L483.42 84.22 L483.89 84.87 L484.37 85.52 L484.84 86.18 L485.31 86.82 L485.78 87.47 L486.25 88.11 L486.72 88.74 L487.19 89.37 L487.66 90.00 L488.13 90.62 L488.61 91.24 L489.08 91.84 L489.55 92.45 L490.02 93.04 L490.49 93.63 L490.96 94.20 L491.43 94.77 L491.90 95.34 L492.38 95.89 L492.85 96.43 L493.32 96.96 L493.79 97.48 L494.26 97.99 L494.73 98.49 L495.20 98.98 L495.68 99.46 L496.15 99.93 L496.62 100.38 L497.09 100.82 L497.56 101.24 L498.03 101.66 L498.50 102.06 L498.97 102.44 L499.44 102.81 L499.92 103.17 L500.39 103.51 L500.86 103.84 L501.33 104.15 L501.80 104.45 L502.27 104.73 L502.74 104.99 L503.21 105.24 L503.69 105.47 L504.16 105.69 L504.63 105.89 L505.10 106.07 L505.57 106.24 L506.04 106.38 L506.51 106.52 L506.99 106.63 L507.46 106.73 L507.93 106.80 L508.40 106.87 L508.87 106.91 L509.34 106.94 L509.81 106.95 L510.28 106.94 L510.75 106.91 L511.23 106.87 L511.70 106.80 L512.17 106.73 L512.64 106.63 L513.11 106.52 L513.58 106.38 L514.05 106.24 L514.52 106.07 L515.00 105.89 L515.47 105.69 L515.94 105.47 L516.41 105.24 L516.88 104.99 L517.35 104.73 L517.82 104.45 L518.30 104.15 L518.77 103.84 L519.24 103.51 L519.71 103.17 L520.18 102.81 L520.65 102.44 L521.12 102.06 L521.59 101.66 L522.07 101.24 L522.54 100.82 L523.01 100.38 L523.48 99.93 L523.95 99.46 L524.42 98.98 L524.89 98.49 L525.36 97.99 L525.84 97.48 L526.31 96.96 L526.78 96.43 L527.25 95.89 L527.72 95.34 L528.19 94.77 L528.66 94.20 L529.13 93.63 L529.61 93.04 L530.08 92.45 L530.55 91.84 L531.02 91.24 L531.49 90.62 L531.96 90.00 L532.43 89.37 L532.90 88.74 L533.38 88.11 L533.85 87.47 L534.32 86.82 L534.79 86.18 L535.26 85.52 L535.73 84.87 L536.20 84.22 L536.67 83.56 L537.14 82.90 L537.62 82.24 L538.09 81.58 L538.56 80.92 L539.03 80.26 L539.50 79.60 L539.97 78.94 L540.44 78.29 L540.91 77.64 L541.39 76.99 L541.86 76.34 L542.33 75.69 L542.80 75.05 L543.27 74.42 L543.74 73.79 L544.21 73.16 L544.68 72.54 L545.16 71.92 L545.63 71.32 L546.10 70.72 L546.57 70.12 L547.04 69.53 L547.51 68.96 L547.98 68.39 L548.45 67.83 L548.93 67.27 L549.40 66.73 L549.87 66.20 L550.34 65.68 L550.81 65.17 L551.28 64.67 L551.75 64.18 L552.23 63.70 L552.70 63.24 L553.17 62.78 L553.64 62.34 L554.11 61.92 L554.58 61.50 L555.05 61.10 L555.52 60.72 L556.00 60.35 L556.47 59.99 L556.94 59.65 L557.41 59.32 L557.88 59.01 L558.35 58.71 L558.82 58.43 L559.29 58.17 L559.76 57.92 L560.24 57.69 L560.71 57.47 L561.18 57.27 L561.65 57.09 L562.12 56.92 L562.59 56.78 L563.06 56.65 L563.53 56.53 L564.01 56.43 L564.48 56.36 L564.95 56.29 L565.42 56.25 L565.89 56.22 L566.36 56.22 L566.83 56.22 L567.30 56.25 L567.78 56.29 L568.25 56.36 L568.72 56.43 L569.19 56.53 L569.66 56.65 L570.13 56.78 L570.60 56.92 L571.08 57.09 L571.55 57.27 L572.02 57.47 L572.49 57.69 L572.96 57.92 L573.43 58.17 L573.90 58.43 L574.37 58.71 L574.85 59.01 L575.32 59.32 L575.79 59.65 L576.26 59.99 L576.73 60.35 L577.20 60.72 L577.67 61.10 L578.14 61.50 L578.62 61.92 L579.09 62.34 L579.56 62.78 L580.03 63.24 L580.50 63.70" stroke="#0000ff"/>
<path d="M354.30 63.70 L354.77 65.26 L355.24 66.85 L355.71 68.46 L356.19 70.11 L356.66 71.78 L357.13 73.48 L357.60 75.20 L358.07 76.95 L358.54 78.72 L359.01 80.51 L359.48 82.32 L359.95 84.15 L360.43 85.99 L360.90 87.86 L361.37 89.74 L361.84 91.63 L362.31 93.53 L362.78 95.45 L363.25 97.38 L363.73 99.32 L364.20 101.27 L364.67 103.23 L365.14 105.19 L365.61 107.16 L366.08 109.14 L366.55 111.12 L367.02 113.10 L367.50 115.09 L367.97 117.08 L368.44 119.07 L368.91 121.06 L369.38 123.05 L369.85 125.04 L370.32 127.02 L370.79 129.01 L371.26 130.98 L371.74 132.95 L372.21 134.92 L372.68 136.88 L373.15 138.82 L373.62 140.76 L374.09 142.69 L374.56 144.61 L375.04 146.52 L375.51 148.41 L375.98 150.29 L376.45 152.15 L376.92 154.00 L377.39 155.82 L377.86 157.63 L378.33 159.42 L378.81 161.19 L379.28 162.94 L379.75 164.66 L380.22 166.36 L380.69 168.04 L381.16 169.68 L381.63 171.30 L382.10 172.89 L382.57 174.44 L383.05 175.97 L383.52 177.46 L383.99 178.92 L384.46 180.34 L384.93 181.72 L385.40 183.06 L385.87 184.36 L386.35 185.62 L386.82 186.84 L387.29 188.01 L387.76 189.13 L388.23 190.21 L388.70 191.24 L389.17 192.22 L389.64 193.14 L390.12 194.02 L390.59 194.83 L391.06 195.60 L391.53 196.30 L392.00 196.95 L392.47 197.54 L392.94 198.08 L393.41 198.55 L393.88 198.96 L394.36 199.30 L394.83 199.59 L395.30 199.81 L395.77 199.97 L396.24 200.07 L396.71 200.10 L397.18 200.07 L397.66 199.97 L398.13 199.81 L398.60 199.59 L399.07 199.30 L399.54 198.96 L400.01 198.55 L400.48 198.08 L400.95 197.54 L401.43 196.95 L401.90 196.30 L402.37 195.60 L402.84 194.83 L403.31 194.02 L403.78 193.14 L404.25 192.22 L404.72 191.24 L405.19 190.21 L405.67 189.13 L406.14 188.01 L406.61 186.84 L407.08 185.62 L407.55 184.36 L408.02 183.06 L408.49 181.72 L408.97 180.34 L409.44 178.92 L409.91 177.46 L410.38 175.97 L410.85 174.44 L411.32 172.89 L411.79 171.30 L412.26 169.68 L412.74 168.04 L413.21 166.36 L413.68 164.66 L414.15 162.94 L414.62 161.19 L415.09 159.42 L415.56 157.63 L416.03 155.82 L416.50 154.00 L416.98 152.15 L417.45 150.29 L417.92 148.41 L418.39 146.52 L418.86 144.61 L419.33 142.69 L419.80 140.76 L420.27 138.82 L420.75 136.88 L421.22 134.92 L421.69 132.95 L422.16 130.98 L422.63 129.01 L423.10 127.02 L423.57 125.04 L424.05 123.05 L424.52 121.06 L424.99 119.07 L425.46 117.08 L425.93 115.09 L426.40 113.10 L426.87 111.12 L427.34 109.14 L427.81 107.16 L428.29 105.19 L428.76 103.23 L429.23 101.27 L429.70 99.32 L430.17 97.38 L430.64 95.45 L431.11 93.53 L431.58 91.63 L432.06 89.74 L432.53 87.86 L433.00 85.99 L433.47 84.15 L433.94 82.32 L434.41 80.51 L434.88 78.72 L435.36 76.95 L435.83 75.20 L436.30 73.48 L436.77 71.78 L437.24 70.11 L437.71 68.46 L438.18 66.85 L438.65 65.26 L439.12 63.70 L439.60 62.18 L440.07 60.68 L440.54 59.23 L441.01 57.81 L441.48 56.43 L441.95 55.08 L442.42 53.78 L442.89 52.52 L443.37 51.31 L443.84 50.14 L444.31 49.01 L444.78 47.93 L445.25 46.91 L445.72 45.93 L446.19 45.00 L446.67 44.13 L447.14 43.31 L447.61 42.55 L448.08 41.84 L448.55 41.19 L449.02 40.60 L449.49 40.07 L449.96 39.60 L450.44 39.19 L450.91 38.84 L451.38 38.56 L451.85 38.33 L452.32 38.17 L452.79 38.08 L453.26 38.05 L453.73 38.08 L454.20 38.17 L454.68 38.33 L455.15 38.56 L455.62 38.84 L456.09 39.19 L456.56 39.60 L457.03 40.07 L457.50 40.60 L457.98 41.19 L458.45 41.84 L458.92 42.55 L459.39 43.31 L459.86 44.13 L460.33 45.00 L460.80 45.93 L461.27 46.91 L461.75 47.93 L462.22 49.01 L462.69 50.14 L463.16 51.31 L463.63 52.52 L464.10 53.78 L464.57 55.08 L465.04 56.43 L465.51 57.81 L465.99 59.23 L466.46 60.68 L466.93 62.18 L467.40 63.70 L467.87 65.26 L468.34 66.85 L468.81 68.46 L469.28 70.11 L469.76 71.78 L470.23 73.48 L470.70 75.20 L471.17 76.95 L471.64 78.72 L472.11 80.51 L472.58 82.32 L473.06 84.15 L473.53 85.99 L474.00 87.86 L474.47 89.74 L474.94 91.63 L475.41 93.53 L475.88 95.45 L476.35 97.38 L476.82 99.32 L477.30 101.27 L477.77 103.23 L478.24 105.19 L478.71 107.16 L479.18 109.14 L479.65 111.12 L480.12 113.10 L480.60 115.09 L481.07 117.08 L481.54 119.07 L482.01 121.06 L482.48 123.05 L482.95 125.04 L483.42 127.02 L483.89 129.01 L484.37 130.98 L484.84 132.95 L485.31 134.92 L485.78 136.88 L486.25 138.82 L486.72 140.76 L487.19 142.69 L487.66 144.61 L488.13 146.52 L488.61 148.41 L489.08 150.29 L489.55 152.15 L490.02 154.00 L490.49 155.82 L490.96 157.63 L491.43 159.42 L491.90 161.19 L492.38 162.94 L492.85 164.66 L493.32 166.36 L493.79 168.04 L494.26 169.68 L494.73 171.30 L495.20 172.89 L495.68 174.44 L496.15 175.97 L496.62 177.46 L497.09 178.92 L497.56 180.34 L498.03 181.72 L498.50 183.06 L498.97 184.36 L499.44 185.62 L499.92 186.84 L500.39 188.01 L500.86 189.13 L501.33 190.21 L501.80 191.24 L502.27 192.22 L502.74 193.14 L503.21 194.02 L503.69 194.83 L504.16 195.60 L504.63 196.30 L505.10 196.95 L505.57 197.54 L506.04 198.08 L506.51 198.55 L506.99 198.96 L507.46 199.30 L507.93 199.59 L508.40 199.81 L508.87 199.97 L509.34 200.07 L509.81 200.10 L510.28 200.07 L510.75 199.97 L511.23 199.81 L511.70 199.59 L512.17 199.30 L512.64 198.96 L513.11 198.55 L513.58 198.08 L514.05 197.54 L514.52 196.95 L515.00 196.30 L515.47 195.60 L515.94 194.83 L516.41 194.02 L516.88 193.14 L517.35 192.22 L517.82 191.24 L518.30 190.21 L518.77 189.13 L519.24 188.01 L519.71 186.84 L520.18 185.62 L520.65 184.36 L521.12 183.06 L521.59 181.72 L522.07 180.34 L522.54 178.92 L523.01 177.46 L523.48 175.97 L523.95 174.44 L524.42 172.89 L524.89 171.30 L525.36 169.68 L525.84 168.04 L526.31 166.36 L526.78 164.66 L527.25 162.94 L527.72 161.19 L528.19 159.42 L528.66 157.63 L529.13 155.82 L529.61 154.00 L530.08 152.15 L530.55 150.29 L531.02 148.41 L531.49 146.52 L531.96 144.61 L532.43 142.69 L532.90 140.76 L533.38 138.82 L533.85 136.88 L534.32 134.92 L534.79 132.95 L535.26 130.98 L535.73 129.01 L536.20 127.02 L536.67 125.04 L537.14 123.05 L537.62 121.06 L538.09 119.07 L538.56 117.08 L539.03 115.09 L539.50 113.10 L539.97 111.12 L540.44 109.14 L540.91 107.16 L541.39 105.19 L541.86 103.23 L542.33 101.27 L542.80 99.32 L543.27 97.38 L543.74 95.45 L544.21 93.53 L544.68 91.63 L545.16 89.74 L545.63 87.86 L546.10 85.99 L546.57 84.15 L547.04 82.32 L547.51 80.51 L547.98 78.72 L548.45 76.95 L548.93 75.20 L549.40 73.48 L549.87 71.78 L550.34 70.11 L550.81 68.46 L551.28 66.85 L551.75 65.26 L552.23 63.70 L552.70 62.18 L553.17 60.68 L553.64 59.23 L554.11 57.81 L554.58 56.43 L555.05 55.08 L555.52 53.78 L556.00 52.52 L556.47 51.31 L556.94 50.14 L557.41 49.01 L557.88 47.93 L558.35 46.91 L558.82 45.93 L559.29 45.00 L559.76 44.13 L560.24 43.31 L560.71 42.55 L561.18 41.84 L561.65 41.19 L562.12 40.60 L562.59 40.07 L563.06 39.60 L563.53 39.19 L564.01 38.84 L564.48 38.56 L564.95 38.33 L565.42 38.17 L565.89 38.08 L566.36 38.05 L566.83 38.08 L567.30 38.17 L567.78 38.33 L568.25 38.56 L568.72 38.84 L569.19 39.19 L569.66 39.60 L570.13 40.07 L570.60 40.60 L571.08 41.19 L571.55 41.84 L572.02 42.55 L572.49 43.31 L572.96 44.13 L573.43 45.00 L573.90 45.93 L574.37 46.91 L574.85 47.93 L575.32 49.01 L575.79 50.14 L576.26 51.31 L576.73 52.52 L577.20 53.78 L577.67 55.08 L578.14 56.43 L578.62 57.81 L579.09 59.23 L579.56 60.68 L580.03 62.18 L580.50 63.70" stroke="#ff0000"/>
</g>
<rect x="349.60" y="32.50" width="235.75" height="176.40" fill="none" stroke="#6a6a6a" stroke-width="0.7"/>
<line x1="349.60" y1="63.70" x2="352.60" y2="63.70" stroke="#6a6a6a" stroke-width="0.7"/>
<line x1="582.35" y1="63.70" x2="585.35" y2="63.70" stroke="#6a6a6a" stroke-width="0.7"/>
<text x="346.20" y="66.40" font-size="9.0" fill="#666666" text-anchor="end" >0</text>
<text x="588.05" y="66.40" font-size="9.0" fill="#666666" text-anchor="start" >0</text>
<line x1="349.60" y1="115.54" x2="352.60" y2="115.54" stroke="#6a6a6a" stroke-width="0.7"/>
<line x1="582.35" y1="115.54" x2="585.35" y2="115.54" stroke="#6a6a6a" stroke-width="0.7"/>
<text x="341.60" y="110.94" font-size="7.9" fill="#666666" text-anchor="middle" font-style="italic">π</text>
<line x1="336.80" y1="113.29" x2="345.80" y2="113.29" stroke="#666666" stroke-width="0.7"/>
<text x="341.50" y="123.94" font-size="8.0" fill="#666666" text-anchor="middle" >16</text>
<text x="330.40" y="116.64" font-size="8.4" fill="#666666" text-anchor="start" >−</text>
<text x="598.65" y="110.94" font-size="7.9" fill="#666666" text-anchor="middle" font-style="italic">π</text>
<line x1="593.80" y1="113.29" x2="602.90" y2="113.29" stroke="#666666" stroke-width="0.7"/>
<text x="598.55" y="123.94" font-size="8.0" fill="#666666" text-anchor="middle" >16</text>
<text x="588.20" y="116.64" font-size="8.4" fill="#666666" text-anchor="start" >−</text>
<line x1="349.60" y1="167.37" x2="352.60" y2="167.37" stroke="#6a6a6a" stroke-width="0.7"/>
<line x1="582.35" y1="167.37" x2="585.35" y2="167.37" stroke="#6a6a6a" stroke-width="0.7"/>
<text x="342.65" y="162.77" font-size="7.9" fill="#666666" text-anchor="middle" font-style="italic">π</text>
<line x1="338.90" y1="165.12" x2="345.80" y2="165.12" stroke="#666666" stroke-width="0.7"/>
<text x="342.55" y="175.77" font-size="8.0" fill="#666666" text-anchor="middle" >8</text>
<text x="333.50" y="168.47" font-size="8.4" fill="#666666" text-anchor="start" >−</text>
<text x="597.45" y="162.77" font-size="7.9" fill="#666666" text-anchor="middle" font-style="italic">π</text>
<line x1="593.80" y1="165.12" x2="600.50" y2="165.12" stroke="#666666" stroke-width="0.7"/>
<text x="597.35" y="175.77" font-size="8.0" fill="#666666" text-anchor="middle" >8</text>
<text x="588.20" y="168.47" font-size="8.4" fill="#666666" text-anchor="start" >−</text>
<line x1="354.30" y1="205.70" x2="354.30" y2="208.90" stroke="#6a6a6a" stroke-width="0.7"/>
<line x1="467.40" y1="205.70" x2="467.40" y2="208.90" stroke="#6a6a6a" stroke-width="0.7"/>
<line x1="580.50" y1="205.70" x2="580.50" y2="208.90" stroke="#6a6a6a" stroke-width="0.7"/>
<text x="354.30" y="219.60" font-size="9.0" fill="#666666" text-anchor="middle" >0</text>
<text x="460.35" y="219.60" font-size="9.0" fill="#666666">2</text>
<text x="467.50" y="219.60" font-size="9.0" fill="#666666" font-style="italic">π</text>
<text x="573.29" y="219.60" font-size="9.0" fill="#666666">4</text>
<text x="580.50" y="219.60" font-size="9.0" fill="#666666" font-style="italic">π</text>
<text transform="translate(467.4,238.2) scale(1.35,1)" font-size="9.7" fill="#000" text-anchor="middle" font-style="italic">ϕ</text>
<text transform="translate(321.5,120.2) rotate(-90)" font-size="10" fill="#000" text-anchor="middle" font-style="italic">ψ</text>
<text x="20.79" y="23.50" font-size="10.3" fill="#000" font-style="italic">G</text>
<text x="28.37" y="25.60" font-size="8.7" fill="#000">3</text>
<text x="33.60" y="23.50" font-size="10.3" fill="#000">/</text>
<text x="36.58" y="23.50" font-size="10.3" fill="#000">|</text>
<text x="39.68" y="23.50" font-size="10.3" fill="#000" font-style="italic">L</text>
<text x="45.88" y="23.50" font-size="10.3" fill="#000">|</text>
<text x="48.80" y="23.50" font-size="10.3" fill="#000">=</text>
<text x="55.39" y="23.50" font-size="10.25" fill="#000">−0.2, 0, 0.4, 0.68, 0.97</text>
<text transform="translate(36.30,16.8) scale(0.8,1)" font-size="14.5" fill="#000">→</text>
<text x="173.98" y="23.50" font-size="10.3" fill="#000">|</text>
<text x="191.68" y="23.50" font-size="10.3" fill="#000" font-style="italic">L</text>
<text x="197.74" y="25.60" font-size="8.7" fill="#000">1</text>
<text x="202.90" y="23.50" font-size="10.3" fill="#000">=</text>
<text x="209.08" y="23.50" font-size="10.3" fill="#000" font-style="italic">L</text>
<text x="215.46" y="25.60" font-size="8.7" fill="#000">2</text>
<text x="220.30" y="23.50" font-size="10.3" fill="#000">=</text>
<text x="226.10" y="23.50" font-size="10.3" fill="#000">0.1</text>
<text x="252.68" y="23.50" font-size="10.3" fill="#000">|</text>
<text x="266.88" y="23.50" font-size="10.3" fill="#000" font-style="italic">L</text>
<text x="272.77" y="25.60" font-size="8.7" fill="#000">3</text>
<text x="277.40" y="23.50" font-size="10.3" fill="#000">=</text>
<text x="283.92" y="23.50" font-size="10.3" fill="#000">1</text>
<text x="336.39" y="23.50" font-size="10.3" fill="#000" font-style="italic">G</text>
<text x="343.97" y="25.60" font-size="8.7" fill="#000">3</text>
<text x="349.20" y="23.50" font-size="10.3" fill="#000">/</text>
<text x="352.18" y="23.50" font-size="10.3" fill="#000">|</text>
<text x="355.28" y="23.50" font-size="10.3" fill="#000" font-style="italic">L</text>
<text x="361.48" y="23.50" font-size="10.3" fill="#000">|</text>
<text x="364.40" y="23.50" font-size="10.3" fill="#000">=</text>
<text x="370.99" y="23.50" font-size="10.25" fill="#000">−0.2, 0, 0.4, 0.68, 0.97</text>
<text transform="translate(351.90,16.8) scale(0.8,1)" font-size="14.5" fill="#000">→</text>
<text x="485.88" y="23.50" font-size="10.3" fill="#000">|</text>
<text x="500.18" y="23.50" font-size="10.3" fill="#000" font-style="italic">L</text>
<text x="506.24" y="25.60" font-size="8.7" fill="#000">1</text>
<text x="511.40" y="23.50" font-size="10.3" fill="#000">=</text>
<text x="517.58" y="23.50" font-size="10.3" fill="#000" font-style="italic">L</text>
<text x="523.96" y="25.60" font-size="8.7" fill="#000">2</text>
<text x="528.80" y="23.50" font-size="10.3" fill="#000">=</text>
<text x="534.60" y="23.50" font-size="10.3" fill="#000">0.1</text>
<text x="560.68" y="23.50" font-size="10.3" fill="#000">|</text>
<text x="574.88" y="23.50" font-size="10.3" fill="#000" font-style="italic">L</text>
<text x="580.77" y="25.60" font-size="8.7" fill="#000">3</text>
<text x="585.40" y="23.50" font-size="10.3" fill="#000">=</text>
<text x="591.92" y="23.50" font-size="10.3" fill="#000">1</text>
</g></svg></body></html>
